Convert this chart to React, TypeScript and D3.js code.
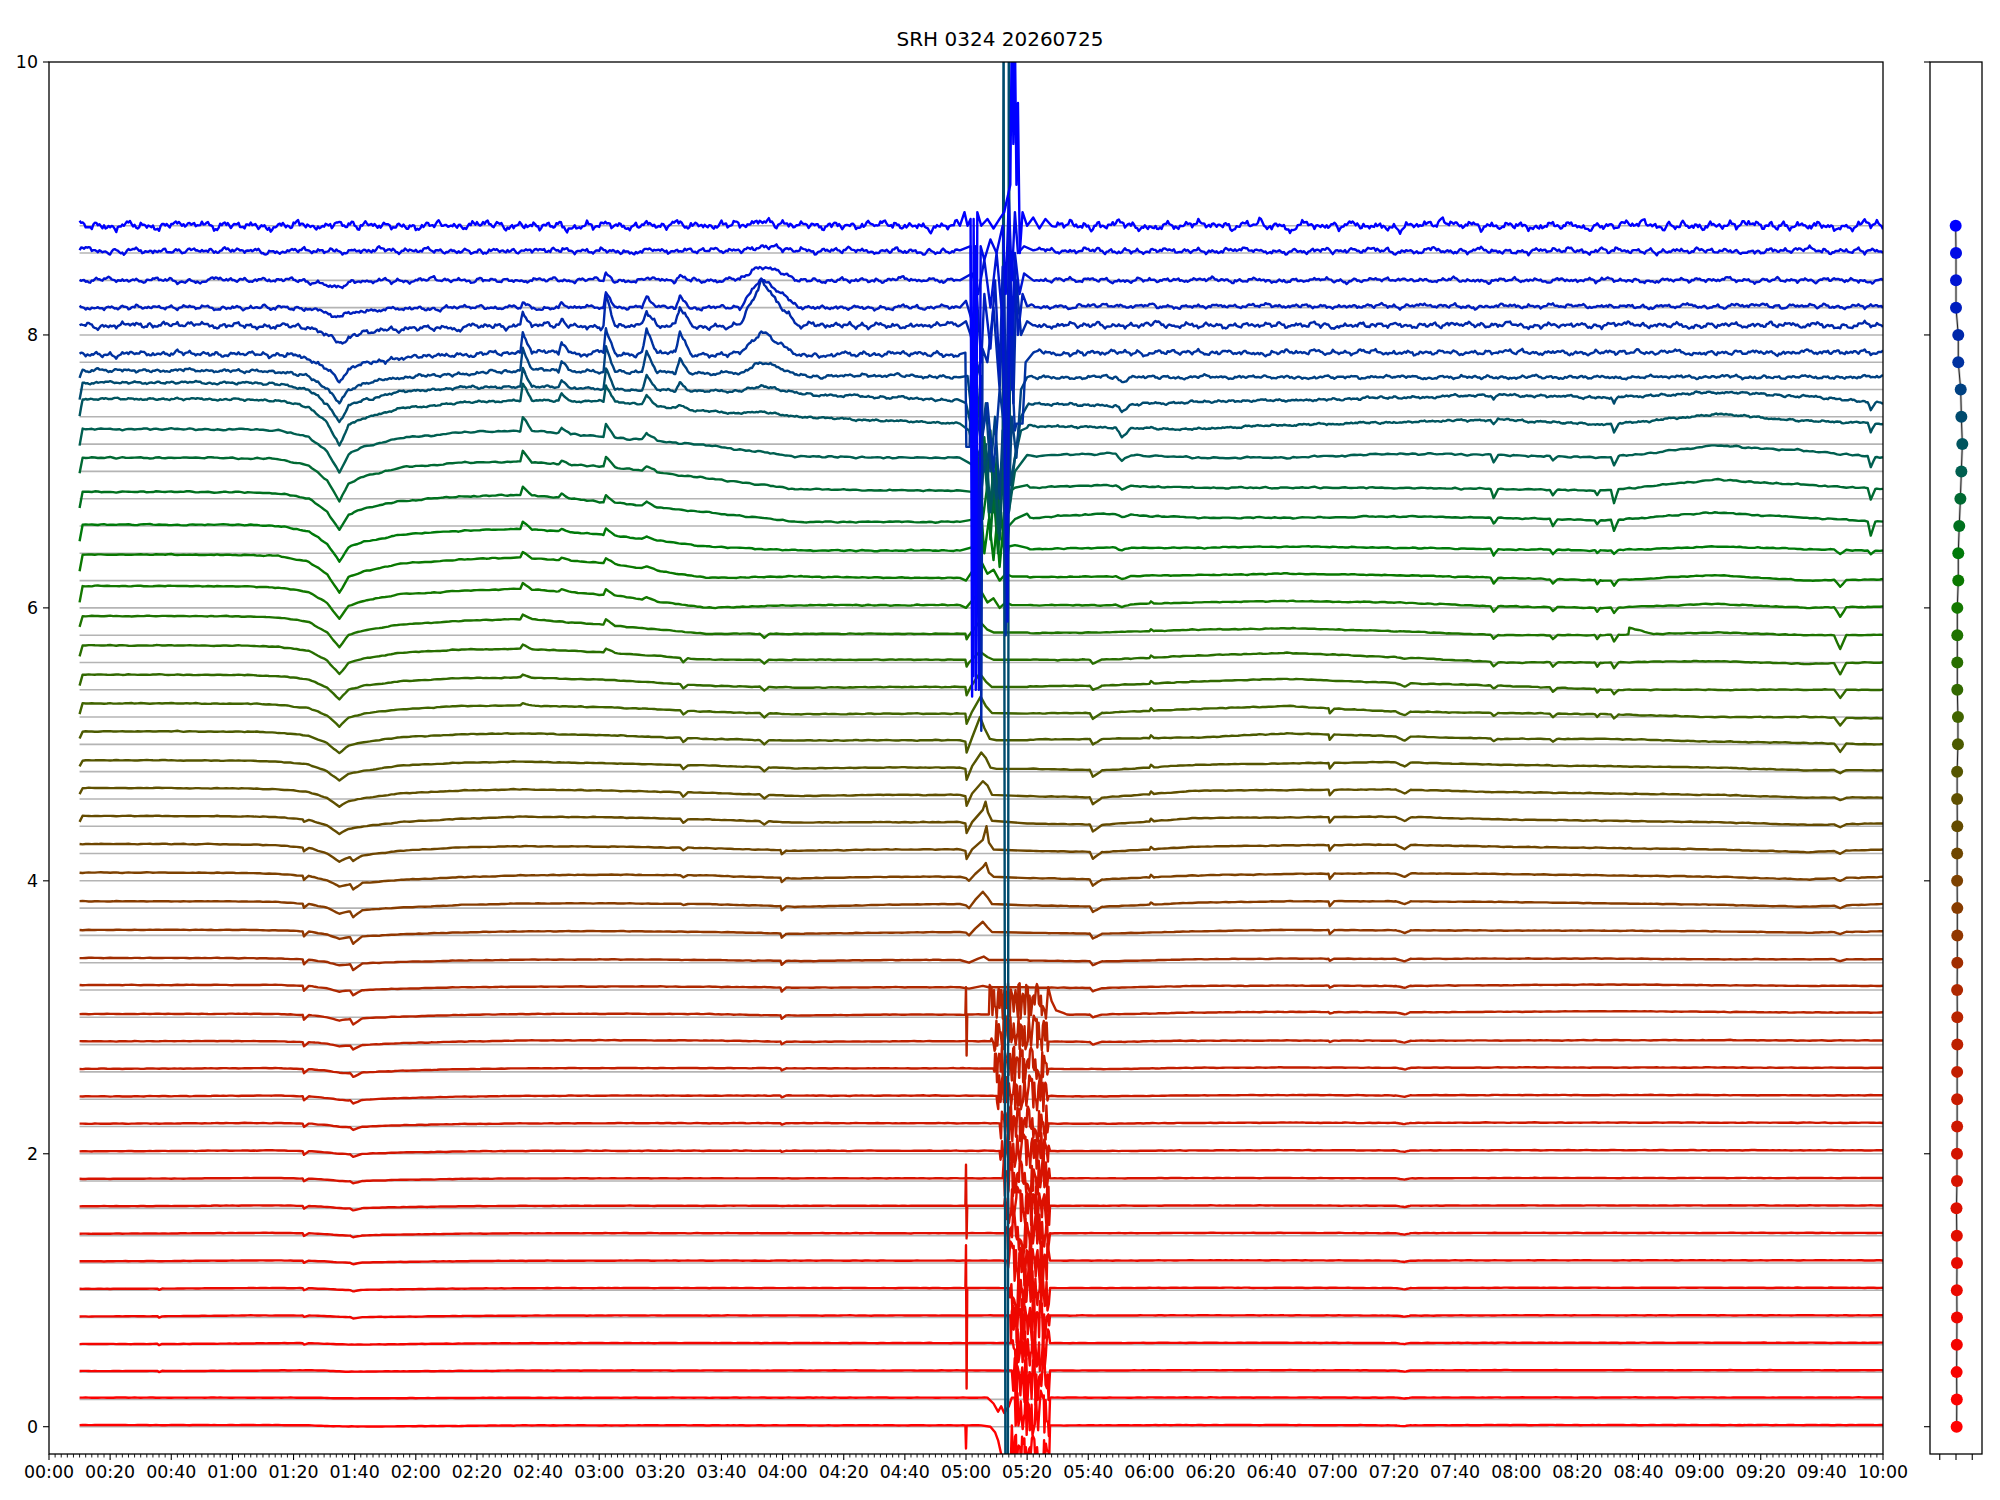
import React, { useMemo } from 'react';
import * as d3 from 'd3';

const TITLE = 'SRH 0324 20260725';
const N = 45;
const TRACE_LEVELS = [0, 0.2, 0.4, 0.6, 0.8, 1.0, 1.2, 1.4, 1.6, 1.8, 2.0, 2.2, 2.4, 2.6, 2.8, 3.0, 3.2, 3.4, 3.6, 3.8, 4.0, 4.2, 4.4, 4.6, 4.8, 5.0, 5.2, 5.4, 5.6, 5.8, 6.0, 6.2, 6.4, 6.6, 6.8, 7.0, 7.2, 7.4, 7.6, 7.8, 8.0, 8.2, 8.4, 8.6, 8.8];
const TRACE_COLORS = [
  '#ff0000', '#fc0100', '#f80200', '#f40400', '#ef0600', '#eb0900', '#e60b00', '#e10e00', '#dc1000', '#d71300',
  '#d21500', '#cd1800', '#c81b00', '#c21e00', '#bd2100', '#b82400', '#ae2800', '#a02d00', '#913700', '#873c00',
  '#7d4100', '#6e4600', '#644b00', '#5f5000', '#555500', '#4b5a00', '#416400', '#326900', '#286e00', '#1e7300',
  '#147800', '#0a7800', '#007a0a', '#00701e', '#006932', '#005f50', '#00555f', '#004b6e', '#004182', '#0032a0',
  '#0028aa', '#001ebe', '#0014d2', '#000ae6', '#0000ff'];
const PANEL_X = [0.04, 0.05, 0.04, 0.05, 0.06, 0.05, 0.06, 0.05, 0.03, 0.06, 0.06, 0.07, 0.07, 0.07, 0.08, 0.08, 0.07, 0.08, 0.08, 0.08, 0.07, 0.07, 0.08, 0.07, 0.07, 0.12, 0.12, 0.08, 0.08, 0.08, 0.08, 0.14, 0.14, 0.2, 0.27, 0.33, 0.39, 0.33, 0.29, 0.14, 0.14, 0.0, 0.0, 0.0, -0.02];
const RIPPLE_AMP = [0.002, 0.002, 0.002, 0.002, 0.002, 0.002, 0.002, 0.002, 0.002, 0.002, 0.003, 0.003, 0.003, 0.003, 0.003, 0.003, 0.003, 0.003, 0.003, 0.003, 0.004, 0.004, 0.004, 0.004, 0.004, 0.005, 0.005, 0.005, 0.005, 0.005, 0.006, 0.006, 0.007, 0.008, 0.009, 0.011, 0.014, 0.018, 0.024, 0.034, 0.038, 0.03, 0.032, 0.038, 0.058];

const SLOW_T = [10, 11, 40, 65, 75, 85, 91, 95, 98, 103, 115, 135, 155, 185, 215, 245, 275, 298, 345, 375, 405, 440, 475, 510, 545, 575, 600];
const SLOW_DEV = [
  [0.012, 0.012, 0.012, 0.012, 0.012, 0.01, 0.005, 0.003, 0.002, 0.002, 0.003, 0.006, 0.01, 0.01, 0.01, 0.01, 0.01, 0.01, 0.01, 0.012, 0.012, 0.01, 0.012, 0.012, 0.012, 0.012, 0.012],
  [0.013, 0.013, 0.013, 0.013, 0.013, 0.012, 0.01, 0.008, 0.008, 0.008, 0.009, 0.011, 0.012, 0.012, 0.013, 0.013, 0.013, 0.013, 0.013, 0.014, 0.014, 0.013, 0.014, 0.014, 0.014, 0.014, 0.014],
  [0.008, 0.008, 0.008, 0.01, 0.012, 0.014, 0.01, 0.006, 0.004, 0.004, 0.006, 0.009, 0.011, 0.012, 0.012, 0.012, 0.012, 0.012, 0.012, 0.014, 0.014, 0.012, 0.014, 0.014, 0.014, 0.014, 0.014],
  [0.006, 0.006, 0.006, 0.01, 0.012, 0.012, 0.008, 0.004, 0.002, 0.002, 0.005, 0.009, 0.012, 0.013, 0.013, 0.013, 0.013, 0.013, 0.013, 0.015, 0.015, 0.013, 0.015, 0.015, 0.015, 0.015, 0.015],
  [0.008, 0.008, 0.01, 0.015, 0.015, 0.015, 0.01, 0.005, 0.003, 0.003, 0.006, 0.011, 0.014, 0.015, 0.015, 0.015, 0.015, 0.015, 0.015, 0.016, 0.016, 0.014, 0.016, 0.016, 0.016, 0.016, 0.016],
  [0.01, 0.01, 0.012, 0.016, 0.016, 0.015, 0.01, 0.004, 0.002, 0.003, 0.007, 0.012, 0.015, 0.016, 0.016, 0.016, 0.016, 0.016, 0.016, 0.018, 0.018, 0.016, 0.018, 0.018, 0.018, 0.018, 0.018],
  [0.012, 0.012, 0.014, 0.018, 0.018, 0.016, 0.01, 0.004, 0.002, 0.003, 0.008, 0.013, 0.016, 0.017, 0.017, 0.017, 0.017, 0.017, 0.017, 0.019, 0.019, 0.017, 0.019, 0.019, 0.019, 0.019, 0.019],
  [0.014, 0.014, 0.016, 0.02, 0.02, 0.017, 0.01, 0.003, 0.0, 0.002, 0.008, 0.014, 0.017, 0.018, 0.018, 0.018, 0.018, 0.018, 0.018, 0.02, 0.02, 0.018, 0.02, 0.02, 0.02, 0.02, 0.02],
  [0.015, 0.015, 0.017, 0.021, 0.021, 0.018, 0.01, 0.002, -0.001, 0.002, 0.009, 0.015, 0.018, 0.019, 0.019, 0.019, 0.019, 0.019, 0.019, 0.021, 0.021, 0.019, 0.021, 0.021, 0.021, 0.021, 0.021],
  [0.016, 0.016, 0.018, 0.022, 0.022, 0.018, 0.01, 0.001, -0.002, 0.001, 0.009, 0.016, 0.019, 0.02, 0.02, 0.02, 0.02, 0.02, 0.02, 0.022, 0.022, 0.02, 0.022, 0.022, 0.022, 0.022, 0.022],
  [0.018, 0.018, 0.02, 0.024, 0.024, 0.019, 0.01, 0.0, -0.004, 0.0, 0.009, 0.017, 0.021, 0.022, 0.022, 0.022, 0.022, 0.022, 0.02, 0.024, 0.026, 0.024, 0.026, 0.026, 0.026, 0.025, 0.025],
  [0.02, 0.02, 0.022, 0.025, 0.025, 0.02, 0.01, -0.002, -0.006, -0.002, 0.009, 0.018, 0.022, 0.024, 0.024, 0.024, 0.024, 0.024, 0.02, 0.026, 0.028, 0.026, 0.028, 0.028, 0.028, 0.027, 0.027],
  [0.02, 0.02, 0.022, 0.026, 0.026, 0.02, 0.008, -0.004, -0.008, -0.004, 0.008, 0.018, 0.024, 0.026, 0.026, 0.026, 0.026, 0.026, 0.02, 0.028, 0.03, 0.028, 0.03, 0.03, 0.03, 0.028, 0.028],
  [0.022, 0.022, 0.024, 0.027, 0.027, 0.02, 0.008, -0.006, -0.008, -0.004, 0.008, 0.02, 0.026, 0.028, 0.028, 0.026, 0.026, 0.026, 0.02, 0.03, 0.032, 0.03, 0.032, 0.032, 0.032, 0.03, 0.03],
  [0.024, 0.024, 0.025, 0.026, 0.024, 0.018, 0.006, -0.012, -0.008, -0.002, 0.01, 0.022, 0.03, 0.032, 0.03, 0.02, 0.024, 0.025, 0.02, 0.028, 0.03, 0.028, 0.03, 0.032, 0.032, 0.03, 0.03],
  [0.024, 0.024, 0.025, 0.025, 0.024, 0.017, 0.0, -0.024, -0.014, -0.007, 0.005, 0.017, 0.024, 0.026, 0.024, 0.012, 0.02, 0.02, 0.02, 0.035, 0.04, 0.036, 0.04, 0.045, 0.04, 0.035, 0.035],
  [0.036, 0.036, 0.037, 0.037, 0.037, 0.03, 0.012, -0.012, -0.005, 0.0, 0.01, 0.019, 0.024, 0.026, 0.024, 0.017, 0.02, 0.02, 0.015, 0.03, 0.032, 0.03, 0.035, 0.04, 0.035, 0.03, 0.03],
  [0.034, 0.034, 0.035, 0.034, 0.03, 0.022, 0.005, -0.02, -0.012, -0.005, 0.005, 0.016, 0.022, 0.024, 0.02, 0.012, 0.02, 0.02, 0.01, 0.025, 0.03, 0.028, 0.03, 0.03, 0.025, 0.025, 0.025],
  [0.04, 0.04, 0.041, 0.04, 0.037, 0.028, 0.006, -0.025, -0.014, -0.006, 0.008, 0.022, 0.03, 0.031, 0.026, 0.012, 0.02, 0.025, 0.012, 0.03, 0.04, 0.038, 0.035, 0.035, 0.03, 0.02, 0.03],
  [0.05, 0.05, 0.05, 0.049, 0.044, 0.031, 0.002, -0.04, -0.025, -0.014, 0.004, 0.023, 0.034, 0.035, 0.03, 0.01, 0.025, 0.03, 0.01, 0.04, 0.05, 0.05, 0.045, 0.035, 0.025, 0.01, 0.03],
  [0.06, 0.06, 0.06, 0.057, 0.05, 0.036, 0.003, -0.044, -0.027, -0.014, 0.006, 0.027, 0.04, 0.045, 0.04, 0.017, 0.03, 0.03, 0.01, 0.04, 0.05, 0.055, 0.05, 0.04, 0.03, 0.01, 0.03],
  [0.07, 0.07, 0.07, 0.066, 0.06, 0.042, 0.0, -0.06, -0.03, -0.012, 0.02, 0.045, 0.054, 0.05, 0.04, 0.02, 0.03, 0.03, 0.01, 0.05, 0.06, 0.065, 0.05, 0.04, 0.03, 0.01, 0.03],
  [0.03, 0.075, 0.075, 0.072, 0.066, 0.047, 0.005, -0.056, -0.02, 0.0, 0.03, 0.055, 0.07, 0.065, 0.05, 0.027, 0.03, 0.03, 0.01, 0.06, 0.065, 0.07, 0.05, 0.04, 0.03, 0.01, 0.02],
  [0.035, 0.08, 0.08, 0.076, 0.07, 0.051, 0.007, -0.056, -0.015, 0.005, 0.04, 0.062, 0.07, 0.06, 0.045, 0.022, 0.03, 0.03, 0.01, 0.06, 0.065, 0.07, 0.05, 0.04, 0.03, 0.01, 0.01],
  [0.04, 0.083, 0.083, 0.08, 0.073, 0.052, 0.004, -0.066, -0.016, 0.006, 0.044, 0.066, 0.073, 0.06, 0.045, 0.024, 0.03, 0.03, 0.01, 0.05, 0.06, 0.07, 0.05, 0.04, 0.03, 0.01, 0.01],
  [0.045, 0.095, 0.095, 0.093, 0.085, 0.063, 0.01, -0.065, -0.01, 0.016, 0.052, 0.074, 0.08, 0.065, 0.04, 0.027, 0.03, 0.03, 0.04, 0.05, 0.08, 0.06, 0.04, 0.04, 0.02, 0.01, 0.0],
  [0.02, 0.1, 0.1, 0.098, 0.09, 0.066, 0.01, -0.07, -0.003, 0.025, 0.058, 0.08, 0.085, 0.07, 0.04, 0.02, 0.025, 0.025, 0.03, 0.06, 0.08, 0.04, 0.03, 0.02, 0.0, 0.0, -0.01],
  [0.03, 0.11, 0.11, 0.108, 0.1, 0.075, 0.015, -0.07, 0.0, 0.03, 0.062, 0.085, 0.09, 0.07, 0.03, 0.015, 0.02, 0.02, 0.03, 0.06, 0.08, 0.05, 0.03, 0.0, 0.0, 0.0, 0.0],
  [0.045, 0.125, 0.125, 0.122, 0.115, 0.085, 0.015, -0.085, -0.005, 0.03, 0.07, 0.095, 0.1, 0.07, 0.02, 0.02, 0.02, 0.02, 0.02, 0.05, 0.07, 0.04, 0.0, 0.0, 0.01, -0.01, 0.0],
  [0.06, 0.14, 0.14, 0.137, 0.13, 0.097, 0.02, -0.09, 0.0, 0.035, 0.078, 0.105, 0.12, 0.07, 0.01, 0.01, 0.01, 0.01, 0.02, 0.04, 0.05, 0.03, 0.0, 0.0, 0.02, 0.0, 0.0],
  [0.04, 0.16, 0.16, 0.157, 0.15, 0.115, 0.035, -0.08, 0.015, 0.052, 0.1, 0.125, 0.14, 0.09, 0.0, 0.02, 0.02, 0.02, 0.02, 0.04, 0.05, 0.04, 0.01, 0.0, 0.03, 0.0, 0.01],
  [0.07, 0.19, 0.19, 0.187, 0.18, 0.14, 0.045, -0.09, 0.023, 0.068, 0.123, 0.155, 0.17, 0.12, 0.02, 0.03, 0.02, 0.02, 0.03, 0.04, 0.05, 0.04, 0.02, 0.0, 0.04, 0.0, 0.01],
  [0.09, 0.21, 0.21, 0.207, 0.2, 0.161, 0.07, -0.06, 0.044, 0.085, 0.136, 0.165, 0.18, 0.13, 0.05, 0.02, 0.02, 0.02, 0.04, 0.04, 0.05, 0.04, 0.03, 0.02, 0.05, 0.03, 0.02],
  [0.13, 0.25, 0.25, 0.247, 0.24, 0.2, 0.105, -0.03, 0.083, 0.128, 0.183, 0.215, 0.23, 0.17, 0.1, 0.03, 0.03, 0.03, 0.09, 0.06, 0.06, 0.07, 0.06, 0.04, 0.1, 0.06, 0.03],
  [0.18, 0.3, 0.3, 0.297, 0.29, 0.244, 0.135, -0.02, 0.11, 0.163, 0.227, 0.265, 0.27, 0.23, 0.15, 0.07, 0.06, 0.06, 0.1, 0.08, 0.08, 0.08, 0.07, 0.06, 0.14, 0.1, 0.07],
  [0.19, 0.31, 0.31, 0.307, 0.3, 0.254, 0.145, -0.01, 0.125, 0.179, 0.245, 0.285, 0.3, 0.25, 0.19, 0.11, 0.1, 0.1, 0.13, 0.1, 0.1, 0.13, 0.12, 0.1, 0.19, 0.15, 0.1],
  [0.21, 0.33, 0.33, 0.327, 0.32, 0.27, 0.155, -0.01, 0.134, 0.192, 0.262, 0.305, 0.32, 0.31, 0.24, 0.2, 0.17, 0.15, 0.12, 0.11, 0.14, 0.16, 0.18, 0.14, 0.22, 0.17, 0.15],
  [0.13, 0.25, 0.25, 0.247, 0.24, 0.198, 0.1, -0.04, 0.077, 0.124, 0.181, 0.215, 0.22, 0.2, 0.19, 0.17, 0.14, 0.12, 0.08, 0.11, 0.12, 0.14, 0.16, 0.14, 0.18, 0.15, 0.1],
  [0.1, 0.14, 0.14, 0.135, 0.13, 0.095, 0.015, -0.1, -0.001, 0.039, 0.087, 0.115, 0.14, 0.13, 0.12, 0.1, 0.1, 0.09, 0.09, 0.09, 0.09, 0.09, 0.09, 0.09, 0.09, 0.09, 0.09],
  [0.06, 0.06, 0.06, 0.06, 0.054, 0.025, -0.043, -0.14, -0.05, -0.014, 0.03, 0.058, 0.066, 0.065, 0.06, 0.05, 0.06, 0.06, 0.07, 0.07, 0.07, 0.07, 0.07, 0.07, 0.07, 0.07, 0.07],
  [0.07, 0.07, 0.07, 0.07, 0.066, 0.047, 0.003, -0.06, -0.006, 0.016, 0.042, 0.058, 0.065, 0.065, 0.065, 0.07, 0.07, 0.07, 0.07, 0.07, 0.07, 0.07, 0.07, 0.07, 0.07, 0.07, 0.07],
  [0, 0, 0, 0, 0, -0.01, -0.04, -0.08, -0.035, -0.02, -0.01, 0, 0, 0, 0, 0, 0, 0, 0.01, 0.01, 0.01, 0.01, 0.01, 0.01, 0.01, 0.01, 0.01],
  [0, 0, 0, 0, 0, -0.01, -0.03, -0.05, -0.02, -0.01, 0, 0, 0, 0, 0, 0, 0, 0, 0, 0, 0, 0, 0, 0, 0, 0, 0],
  [0.015, 0.015, 0.015, 0.015, 0.015, 0.015, 0.015, 0.015, 0.015, 0.015, 0.015, 0.015, 0.015, 0.015, 0.015, 0.015, 0.015, 0.015, 0.015, 0.015, 0.015, 0.015, 0.015, 0.015, 0.015, 0.015, 0.015],
  [0, 0, 0, 0, 0, 0, 0, 0, 0, 0, 0, 0, 0, 0, 0, 0, 0, 0, 0, 0, 0, 0, 0, 0, 0, 0, 0],
];

// Sharp events (notches, peaks, dips): time, rise, fall, and [trace, amplitude] pairs
const EVENT_TIMES = [36, 83.4, 99.5, 155, 167.7, 182.2, 195.5, 206.4, 207.5, 233, 234, 239.7, 341.5, 351, 360.5, 419, 443.5, 472.6, 492, 506.5, 512, 517, 586, 596];
const EVENT_RISE = [0.5, 0.4, 1, 0.8, 1, 0.8, 1.5, 1.5, 1, 7, 1.5, 0.4, 1, 2, 0.5, 0.4, 3, 1, 1, 0.8, 1, 0.3, 2, 1];
const EVENT_FALL = [1, 1.6, 3, 3, 3, 3, 3.5, 3.5, 1.5, 12, 1.5, 1.5, 3, 3, 1, 1.5, 2, 1.5, 1.5, 1, 1.5, 8, 2, 1.5];
const EVENT_AMPS = [
  [[2, -0.008], [3, -0.01], [4, -0.01], [5, -0.008]],
  [[3, -0.01], [4, -0.01], [5, -0.015], [6, -0.015], [7, -0.02], [8, -0.02], [9, -0.02], [10, -0.025], [11, -0.025], [12, -0.03], [13, -0.03], [14, -0.03], [15, -0.035], [16, -0.035], [17, -0.035], [18, -0.035], [19, -0.03], [20, -0.03], [21, -0.025], [22, -0.015]],
  [[4, -0.01], [5, -0.01], [6, -0.012], [7, -0.012], [8, -0.015], [9, -0.015], [10, -0.02], [11, -0.02], [12, -0.025], [13, -0.03], [14, -0.03], [15, -0.04], [16, -0.035], [17, -0.045], [18, -0.05], [19, -0.045], [20, -0.04], [21, -0.03]],
  [[26, 0.015], [27, 0.02], [28, 0.03], [29, 0.03], [30, 0.04], [31, 0.04], [32, 0.05], [33, 0.06], [34, 0.08], [35, 0.1], [36, 0.12], [37, 0.14], [38, 0.16], [39, 0.16], [40, 0.1], [41, 0.04]],
  [[30, 0.02], [31, 0.02], [32, 0.02], [33, 0.03], [34, 0.03], [35, 0.04], [36, 0.05], [37, 0.06], [38, 0.08], [39, 0.09], [40, 0.05], [41, 0.03]],
  [[28, 0.03], [29, 0.04], [30, 0.04], [31, 0.04], [32, 0.05], [33, 0.05], [34, 0.07], [35, 0.09], [36, 0.12], [37, 0.15], [38, 0.18], [39, 0.18], [40, 0.21], [41, 0.1], [42, 0.05]],
  [[30, 0.02], [31, 0.02], [32, 0.02], [33, 0.03], [34, 0.04], [35, 0.05], [36, 0.07], [37, 0.1], [38, 0.14], [39, 0.16], [40, 0.12], [41, 0.07], [42, 0.02]],
  [[36, 0.03], [37, 0.06], [38, 0.1], [39, 0.16], [40, 0.13], [41, 0.08], [42, 0.03]],
  [[19, -0.01], [20, -0.015], [21, -0.02], [22, -0.03], [23, -0.03], [24, -0.03], [25, -0.03], [26, -0.03], [27, -0.03], [28, -0.03]],
  [[36, 0.02], [37, 0.05], [38, 0.1], [39, 0.17], [40, 0.32], [41, 0.22], [42, 0.11], [43, 0.04], [44, 0.04]],
  [[22, -0.025], [23, -0.03], [24, -0.03], [25, -0.03], [26, -0.03], [27, -0.03], [28, -0.03], [29, -0.03]],
  [[10, -0.01], [11, -0.01], [12, -0.012], [13, -0.015], [14, -0.02], [15, -0.025], [16, -0.03], [17, -0.03], [18, -0.03], [19, -0.03], [20, -0.03], [21, -0.03]],
  [[14, -0.02], [15, -0.02], [16, -0.025], [17, -0.03], [18, -0.035], [19, -0.04], [20, -0.045], [21, -0.05], [22, -0.05], [23, -0.05], [24, -0.05], [25, -0.04], [26, -0.04], [27, -0.03], [28, -0.03]],
  [[30, -0.02], [31, -0.02], [32, -0.02], [33, -0.02], [34, -0.03], [35, -0.05], [36, -0.07], [37, -0.05], [38, -0.03]],
  [[19, 0.015], [20, 0.02], [21, 0.02], [22, 0.02], [23, 0.02], [24, 0.02], [25, 0.02], [26, 0.02], [27, 0.02], [28, 0.015], [29, 0.015], [30, 0.015]],
  [[14, -0.01], [15, -0.01], [16, -0.015], [17, -0.015], [18, -0.03], [19, -0.035], [20, -0.04], [21, -0.04], [22, -0.04], [23, -0.04], [24, -0.04], [25, -0.04], [26, -0.035]],
  [[0, -0.006], [1, -0.006], [2, -0.008], [3, -0.008], [4, -0.008], [5, -0.01], [6, -0.01], [7, -0.01], [8, -0.01], [9, -0.01], [10, -0.01], [11, -0.01], [12, -0.012], [13, -0.012], [14, -0.015], [15, -0.015], [16, -0.015], [17, -0.02], [18, -0.02], [19, -0.02], [20, -0.025], [21, -0.03], [22, -0.03], [23, -0.03], [24, -0.03], [25, -0.03], [26, -0.025], [27, -0.025], [28, -0.01]],
  [[25, -0.02], [26, -0.02], [27, -0.02], [28, -0.03], [29, -0.03], [30, -0.04], [31, -0.04], [32, -0.05], [33, -0.04], [34, -0.06], [35, -0.05], [36, -0.04], [37, -0.03]],
  [[25, -0.02], [26, -0.025], [27, -0.03], [28, -0.03], [29, -0.03], [30, -0.03], [31, -0.03], [32, -0.03], [33, -0.05], [34, -0.04], [35, -0.03]],
  [[26, -0.02], [27, -0.025], [28, -0.03], [29, -0.03], [30, -0.03], [31, -0.03], [32, -0.02], [33, -0.03], [34, -0.03]],
  [[26, -0.03], [27, -0.03], [28, -0.04], [29, -0.05], [30, -0.04], [31, -0.04], [32, -0.03], [33, -0.08], [34, -0.1], [35, -0.06], [36, -0.06], [37, -0.05]],
  [[29, 0.05]],
  [[17, -0.015], [18, -0.015], [19, -0.02], [20, -0.02], [21, -0.02], [22, -0.02], [23, -0.02], [24, -0.02], [25, -0.06], [26, -0.06], [27, -0.06], [28, -0.08], [29, -0.1], [30, -0.07], [31, -0.05], [32, -0.03]],
  [[32, -0.03], [33, -0.1], [34, -0.08], [35, -0.08], [36, -0.07], [37, -0.05]],
];

// Fine texture (scaled per trace by RIPPLE_AMP)
const RIPPLE = [
  0.2, -0.5, 0.7, 0.1, -0.8, 0.4, -0.2, 0.9, -0.6, 0.3, -0.1, 0.6, -0.9, 0.2, 0.5, -0.4, 0.8, -0.7, 0.0, 0.4,
  -0.3, -0.8, 0.6, 0.9, -0.2, 0.1, -0.6, 0.5, -1.0, 0.3, 0.7, -0.4, 0.2, -0.1, 0.8, -0.5, 0.4, -0.9, 0.6, 0.0,
  -0.3, 0.5, -0.7, 1.0, -0.2, 0.3, -0.6, 0.1, 0.7, -0.8, 0.4, -0.1, -0.5, 0.6, -0.3, 0.9, -0.7, 0.2, -0.4, 0.5,
  0.1, -0.9, 0.8, -0.2, 0.3, -0.6, 0.7, -0.1, 0.4, -0.8, 0.6, 0.2, -0.5, 0.9, -0.4, 0.0, -0.7, 0.5, -0.2, 0.8,
  -0.6, 0.3, -1.0, 0.4, 0.1, -0.3, 0.7, -0.5, 0.6, -0.1, 0.2, -0.8, 0.5, -0.4, 0.9, -0.6, 0.3, 0.0, -0.7, 0.8,
  -0.2, 0.4, -0.5, 0.6, -0.9, 0.1, 0.7, -0.3, 0.5, -0.8, 0.3, -0.1, 0.9, -0.6, 0.2, -0.4, 0.8, -0.7, 0.0, 0.5,
  -0.3, 0.6, -0.8, 0.4, -0.2, 1.0, -0.5, 0.1, -0.6, 0.7, 0.2, -0.9, 0.5, -0.1, 0.3, -0.7, 0.8, -0.4, 0.6, -0.2,
  -0.5, 0.4, -0.3, 0.9, -0.8, 0.2, 0.1, -0.6, 0.7, -0.4, 0.5, -1.0, 0.3, 0.6, -0.2, 0.8, -0.5, 0.0, 0.4, -0.7,
  0.9, -0.3, 0.2, -0.6, 0.5, -0.1, 0.7, -0.9, 0.3, 0.1, -0.4, 0.8, -0.2, 0.6, -0.7, 0.4, -0.5, 0.9, -0.1, 0.2,
  -0.8, 0.5, -0.3, 0.7, 0.0, -0.6, 0.4, -0.2, 0.8, -0.5, 0.3, -0.9, 0.6, -0.4, 0.1, 0.7, -0.3, 0.5, -0.7, 0.2,
];

// Burst around 05:00-05:30: explicit [minute, deviation] vertices per trace
const BURST_SEGMENTS: [number, number[][]][] = [
  [44, [[298, 0], [299.5, 0.1], [300.5, 0.0], [301.5, 0.05], [302.0, -3.45], [302.5, 0.05], [303.2, -3.4], [303.7, 0.1], [305, 0.0], [307, 0.05], [309, -0.02], [311, 0.05], [312.5, 0.1], [314.5, 0.3], [315.0, 1.5], [315.5, 0.6], [316.0, 1.4], [316.5, 0.3], [317.0, 0.9], [317.6, -0.2], [318.5, 0.1], [320, 0.0], [322, 0.06], [324, -0.02], [326, 0.05], [328, 0.0]]],
  [43, [[298, 0.02], [301.5, 0.05], [302.4, -3.1], [303.0, 0.05], [304.2, -3.2], [304.8, 0.05], [306, -0.05], [308, 0.1], [310, 0.0], [312, 0.2], [313, -0.3], [314, 0.4], [315, -0.2], [316, 0.3], [317, 0.0], [319, 0.05], [322, 0.02]]],
  [42, [[298, 0], [302, 0.05], [304, -0.1], [306, 0.15], [308, -0.2], [310, 0.2], [312, -0.3], [313.6, -2.5], [314.2, 0.3], [315, -0.4], [316, 0.2], [317.5, -0.1], [319, 0.05], [322, 0]]],
  [41, [[298, 0], [300, 0.05], [302, -0.1], [303.5, 0.1], [305, -0.4], [306, 0.1], [308, -0.3], [309.5, 0.2], [311, -0.5], [312, 0.3], [313, -1.0], [314, 0.4], [315, -0.6], [316, 0.3], [317, -0.2], [318.5, 0.1], [320, 0.01]]],
  [40, [[298, 0.07], [300, 0.1], [301.5, 0.0], [304.6, -0.3], [305.0, -2.9], [305.4, -0.1], [307, -0.2], [309, 0.2], [311, -0.4], [312.5, 0.4], [313.5, -1.5], [314.5, 0.5], [315.5, -0.5], [316.5, 0.4], [318, 0.0], [320, 0.1], [322, 0.07]]],
  [39, [[298, 0.06], [299.8, 0.07], [300.1, -0.62], [301.2, -0.62], [301.6, -0.1], [303, -0.3], [305, -0.6], [307, -0.3], [309, -0.8], [311, -0.2], [312.6, -0.5], [313.0, -2.0], [313.5, -0.3], [314.5, 0.2], [316, -0.5], [316.5, -0.45], [318.5, -0.45], [319.5, 0.0], [322, 0.07]]],
  [38, [[298, 0.09], [300.5, 0.1], [302, -0.2], [303.5, 0.05], [305, -0.4], [306.5, -0.1], [308, -0.6], [309.5, -0.2], [311, -0.8], [312, -0.3], [313.5, -1.1], [315, -0.2], [316.5, -0.5], [318, 0.0], [320, 0.09]]],
  [37, [[298, 0.12], [300, 0.1], [303, -0.2], [306, -0.4], [308, -0.2], [310, -0.6], [312.0, -0.3], [312.3, 3.0], [312.9, -8.0], [313.7, -8.0], [314.0, 3.0], [314.4, -0.5], [316, -0.3], [318, 0.0], [320, 0.08]]],
  [36, [[298, 0.15], [301, 0.1], [303, -0.1], [305, -0.35], [306.5, 0.0], [308, -0.5], [309.5, -0.2], [311, -0.7], [312.5, 0.0], [314, -0.5], [316, -0.1], [318, 0.1], [320, 0.12]]],
  [35, [[298, 0.1], [302, 0.05], [304, -0.2], [306, 0.1], [307.5, -0.3], [309, 0.0], [310.5, -0.45], [312, 0.05], [314, -0.3], [316, 0.0], [320, 0.12]]],
  [34, [[298, 0.06], [302, 0.05], [304, 0.3], [305, 0.0], [306, 0.45], [307, 0.1], [308, 0.5], [309, -0.1], [310, 0.3], [311, -0.2], [312, 0.2], [313, -0.1], [314, 0.05], [316, 0.08], [320, 0.1]]],
  [33, [[298, 0.03], [303, 0.05], [304.5, 0.35], [305.5, 0.05], [307, 0.3], [308, -0.1], [309, 0.25], [310.5, -0.2], [311.5, 0.1], [313, -0.3], [314, 0.0], [316, 0.05], [320, 0.09]]],
  [32, [[298, 0.02], [303, 0.05], [305, 0.3], [306, 0.0], [307.5, 0.25], [309, -0.05], [310, 0.2], [311, -0.1], [312, 0.15], [313, -0.1], [314, 0.05], [316, 0.06], [320, 0.04]]],
  [31, [[298, 0.02], [300, 0.0], [303, 0.1], [305, 0.14], [307, 0.05], [309, 0.08], [311, 0.0], [313, 0.05], [315, 0.03], [320, 0.03]]],
  [30, [[298, 0.02], [300, 0.0], [303, 0.08], [305, 0.12], [307, 0.04], [309, 0.07], [311, 0.0], [313, 0.04], [315, 0.02], [320, 0.02]]],
  [29, [[298, 0.01], [299.8, 0.01], [300.2, -0.03], [301, 0.0], [304.5, 0.1], [307, 0.04], [309, 0.02], [312, 0.02], [320, 0.02]]],
  [28, [[298, 0.02], [299.8, 0.02], [300.2, -0.03], [301, 0.0], [304.5, 0.08], [307, 0.04], [309, 0.02], [320, 0.02]]],
  [27, [[298, 0.02], [299.8, 0.02], [300.2, -0.04], [301.5, 0.02], [304.5, 0.12], [306.5, 0.06], [308.5, 0.02], [320, 0.02]]],
  [26, [[298, 0.025], [299.8, 0.025], [300.2, -0.05], [302, 0.04], [304.8, 0.15], [306.5, 0.08], [308.5, 0.03], [320, 0.025]]],
  [25, [[298, 0.03], [299.8, 0.02], [300.2, -0.06], [302, 0.05], [304.6, 0.2], [306, 0.12], [307.8, 0.04], [310, 0.03], [320, 0.03]]],
  [24, [[298, 0.03], [299.8, 0.02], [300.2, -0.06], [302, 0.04], [305, 0.14], [306.5, 0.1], [308, 0.03], [310, 0.02], [320, 0.02]]],
  [23, [[298, 0.03], [299.8, 0.02], [300.2, -0.05], [302, 0.04], [305.5, 0.13], [307, 0.1], [308.5, 0.03], [320, 0.02]]],
  [22, [[298, 0.03], [299.8, 0.02], [300.2, -0.05], [302, 0.03], [305.5, 0.12], [306.4, 0.18], [307.2, 0.1], [308.5, 0.04], [320, 0.02]]],
  [21, [[298, 0.03], [299.8, 0.02], [300.2, -0.04], [302, 0.03], [305.5, 0.1], [306.7, 0.2], [307.5, 0.08], [309, 0.03], [320, 0.02]]],
  [20, [[298, 0.03], [300, 0.02], [301, 0.0], [303, 0.05], [305.5, 0.1], [306.5, 0.13], [307.5, 0.06], [309, 0.03], [320, 0.02]]],
  [19, [[298, 0.03], [300, 0.02], [301, 0.0], [303, 0.06], [305.5, 0.12], [307, 0.08], [308.5, 0.03], [320, 0.02]]],
  [18, [[298, 0.025], [300, 0.02], [301, 0.0], [303, 0.05], [305.5, 0.1], [307, 0.06], [308.5, 0.025], [320, 0.02]]],
  [17, [[298, 0.02], [301, 0.0], [304, 0.03], [305.8, 0.045], [307.5, 0.02], [320, 0.02]]],
  [16, [[298, 0.02], [301, 0.01], [305.5, 0.03], [307.5, 0.02], [320, 0.02]]],
  [15, [[299.8, 0.02], [300.0, 0.22], [300.2, -0.28], [300.4, 0.02]]],
  [8, [[299.8, 0.02], [300.0, 0.32], [300.2, -0.22], [300.4, 0.02]]],
  [5, [[299.8, 0.017], [300.0, 0.33], [300.2, -0.72], [300.4, 0.017]]],
  [0, [[299.8, 0.01], [300.0, -0.16], [300.2, 0.01]]],
  [0, [[305, 0.01], [308, 0.0], [309.5, -0.04], [310.5, -0.1], [311.5, -0.2], [312.5, -0.4], [314.5, -0.4]]],
  [1, [[307, 0.013], [309, -0.03], [310.5, -0.09], [311.5, -0.05], [312.5, -0.1], [314, -0.05]]],
];
// Dense oscillation of the red traces: trace, start, end, amplitude, bias
const RED_OSC = [
  [15, 307.5, 326.5, 0.13, 0.1], [14, 308, 327, 0.13, 0.06], [13, 309, 327, 0.13, 0.03], [12, 310, 327, 0.13, 0.02],
  [11, 311, 327, 0.13, 0.0], [10, 311, 327.5, 0.13, 0.0], [9, 312, 327.5, 0.13, 0.0], [8, 312.5, 327.5, 0.14, 0.0],
  [7, 313, 327.5, 0.15, 0.0], [6, 313.5, 327.5, 0.16, -0.02], [5, 314, 327.5, 0.16, -0.02], [4, 314.5, 327.5, 0.16, -0.04],
  [3, 315, 327.5, 0.16, -0.06], [2, 315, 327.5, 0.17, -0.08], [1, 316, 327.5, 0.17, -0.12], [0, 315, 327.5, 0.13, -0.2],
];
const BURST_OSC = [
  0.6, -0.9, 0.3, 1.0, -0.4, -1.0, 0.8, -0.2, 0.5, -0.8, 0.9, -0.6, 0.1, 1.0, -0.9, 0.4, -0.3, 0.7, -1.0, 0.6,
  -0.5, 0.9, -0.7, 0.2, 0.8, -0.9, 0.5, -0.1, 1.0, -0.6, 0.3, -0.8, 0.7, -0.4, 0.9, -1.0, 0.4, -0.2, 0.6, -0.7,
  1.0, -0.5, 0.2, -0.9, 0.8, -0.3, 0.5, -0.8, -0.1, 0.4, -0.6, 0.95, -0.35, 0.15, -0.85, 0.55, 0.25, -0.45, 0.75, -0.95,
  0.05, 0.65, -0.25, -0.75, 0.85, -0.15, 0.45, -0.55, 0.35, -0.65, 0.9, 0.1, -0.3, 0.7, -0.9, 0.2, -0.1, 0.5, -0.7, 0.3,
  -0.4, 1.0, -0.6, 0.0, 0.8, -0.2, -0.8, 0.6, -0.5, 0.3, 0.9, -1.0, 0.4, -0.3, 0.6, -0.1];
const BURST_STEP = [0.35, 0.25, 0.45, 0.3, 0.2, 0.4, 0.3, 0.5, 0.25, 0.35, 0.3, 0.45, 0.2, 0.3];
const K15_AFTER = [[326.5, 0.1], [326.9, 0.22], [328, 0.12], [329.5, 0.05], [332, 0.03]];

const X_MAJOR = d3.range(0, 601, 20);
const X_MINOR = d3.range(0, 601, 2).filter((m) => m % 20 !== 0);
const Y_TICKS = [0, 2, 4, 6, 8, 10];
const PANEL_TICKS = [-1, 0, 1];

const M = { left: 49, right: 1883, top: 62, bottom: 1454 };
const P = { left: 1930, right: 1982 };
const xScale = d3.scaleLinear().domain([0, 600]).range([M.left, M.right]);
const yScale = d3.scaleLinear().domain([-0.2, 10]).range([M.bottom, M.top]);
const pScale = d3.scaleLinear().domain([-1.6, 1.6]).range([P.left, P.right]);

function slowAt(k: number, t: number) {
  const row = SLOW_DEV[k];
  if (t <= SLOW_T[0]) return row[0];
  for (let i = 1; i < SLOW_T.length; i++) {
    if (t <= SLOW_T[i]) {
      const f = (t - SLOW_T[i - 1]) / (SLOW_T[i] - SLOW_T[i - 1]);
      return row[i - 1] + f * (row[i] - row[i - 1]);
    }
  }
  return row[row.length - 1];
}

function rippleVal(idx: number) {
  const L = RIPPLE.length;
  const i0 = Math.floor(idx);
  const fr = idx - i0;
  const a = RIPPLE[((i0 % L) + L) % L];
  const b = RIPPLE[(((i0 + 1) % L) + L) % L];
  return a + fr * (b - a);
}

function rippleAt(k: number, t: number) {
  const amp = RIPPLE_AMP[k];
  return amp * (0.4 * rippleVal(t * 1.5 + k * 37) + 0.6 * rippleVal(t / 2.2 + k * 19) + 0.35 * rippleVal(t / 9 + k * 13));
}

function eventAt(k: number, t: number) {
  let s = 0;
  EVENT_TIMES.forEach((te, e) => {
    const pair = EVENT_AMPS[e].find((p) => p[0] === k);
    if (!pair) return;
    const r = EVENT_RISE[e], f = EVENT_FALL[e];
    if (t >= te - r && t <= te) s += pair[1] * (t - (te - r)) / r;
    else if (t > te && t <= te + f) s += pair[1] * (1 - (t - te) / f);
  });
  return s;
}

function buildTrace(k: number): [number, number][] {
  const level = TRACE_LEVELS[k];
  const step = k >= 36 ? 0.5 : 1;
  const ts = new Set<number>(d3.range(10, 600.001, step));
  EVENT_TIMES.forEach((te, e) => {
    if (EVENT_AMPS[e].some((p) => p[0] === k)) {
      ts.add(+(te - EVENT_RISE[e]).toFixed(3));
      ts.add(te);
      ts.add(+(te + EVENT_FALL[e]).toFixed(3));
    }
  });
  let pts: [number, number][] = Array.from(ts)
    .filter((t) => t >= 10 && t <= 600)
    .sort((a, b) => a - b)
    .map((t) => [t, level + slowAt(k, t) + eventAt(k, t) + rippleAt(k, t)]);

  const overrides: [number, number][][] = [];
  BURST_SEGMENTS.forEach(([kk, seg]) => {
    if (kk === k) overrides.push(seg.map((p) => [p[0], level + p[1]] as [number, number]));
  });
  RED_OSC.forEach(([kk, t0, t1, amp, bias]) => {
    if (kk !== k) return;
    const seg: [number, number][] = [[t0, level + slowAt(k, t0)]];
    let j = 1;
    let t = t0 + BURST_STEP[k % BURST_STEP.length];
    while (t < t1 - 0.2) {
      const v = BURST_OSC[(j * 7 + k * 13) % BURST_OSC.length];
      seg.push([t, level + slowAt(k, t) + bias + amp * v]);
      t += BURST_STEP[(j + k * 3) % BURST_STEP.length];
      j++;
    }
    seg.push([t1, level + slowAt(k, t1)]);
    overrides.push(seg);
  });
  if (k === 15) overrides.push(K15_AFTER.map((p) => [p[0], level + p[1]] as [number, number]));

  overrides.forEach((seg) => {
    const a = seg[0][0], b = seg[seg.length - 1][0];
    pts = pts.filter((p) => p[0] < a || p[0] > b).concat(seg);
    pts.sort((p, q) => p[0] - q[0]);
  });
  return pts;
}

const fmtTime = (m: number) => `${String(Math.floor(m / 60)).padStart(2, '0')}:${String(m % 60).padStart(2, '0')}`;

export default function App() {
  const traces = useMemo(() => d3.range(N).map((k) => buildTrace(k)), []);
  const line = d3.line<[number, number]>().x((d) => xScale(d[0])).y((d) => yScale(d[1]));
  const panelLine = d3.line<number>().x((k) => pScale(PANEL_X[k])).y((k) => yScale(TRACE_LEVELS[k]));
  const font = 'DejaVu Sans, Liberation Sans, sans-serif';

  return (
    <svg width={2000} height={1500} style={{ position: 'absolute', left: 0, top: 0, background: '#ffffff' }} fontFamily={font}>
      <rect x={0} y={0} width={2000} height={1500} fill="#ffffff" />
      <defs>
        <clipPath id="mainClip">
          <rect x={M.left} y={M.top} width={M.right - M.left} height={M.bottom - M.top} />
        </clipPath>
      </defs>
      <text x={1000} y={46} textAnchor="middle" fontSize={20} fill="#000">{TITLE}</text>

      <g clipPath="url(#mainClip)">
        {TRACE_LEVELS.map((lv, k) => (
          <line key={'g' + k} x1={xScale(10)} x2={xScale(600)} y1={yScale(lv)} y2={yScale(lv)} stroke="#b4b4b4" strokeWidth={1.6} />
        ))}
        {traces.map((pts, k) => (
          <path key={'t' + k} d={line(pts) || ''} fill="none" stroke={TRACE_COLORS[k]} strokeWidth={2.4} strokeLinejoin="round" />
        ))}
      </g>
      <rect x={M.left} y={M.top} width={M.right - M.left} height={M.bottom - M.top} fill="none" stroke="#000" strokeWidth={1.3} />

      {Y_TICKS.map((v) => (
        <g key={'y' + v}>
          <line x1={M.left - 6} x2={M.left} y1={yScale(v)} y2={yScale(v)} stroke="#000" strokeWidth={1.1} />
          <text x={38} y={yScale(v)} dy="0.35em" textAnchor="end" fontSize={17.4} fill="#000">{v}</text>
        </g>
      ))}
      {X_MINOR.map((m) => (
        <line key={'xm' + m} x1={xScale(m)} x2={xScale(m)} y1={M.bottom} y2={M.bottom + 3.5} stroke="#000" strokeWidth={0.9} />
      ))}
      {X_MAJOR.map((m) => (
        <g key={'xM' + m}>
          <line x1={xScale(m)} x2={xScale(m)} y1={M.bottom} y2={M.bottom + 6} stroke="#000" strokeWidth={1.1} />
          <text x={xScale(m)} y={1478} textAnchor="middle" fontSize={17.4} fill="#000">{fmtTime(m)}</text>
        </g>
      ))}

      <rect x={P.left} y={M.top} width={P.right - P.left} height={M.bottom - M.top} fill="#ffffff" stroke="#000" strokeWidth={1.3} />
      {Y_TICKS.map((v) => (
        <line key={'py' + v} x1={P.left - 6} x2={P.left} y1={yScale(v)} y2={yScale(v)} stroke="#000" strokeWidth={1.1} />
      ))}
      {PANEL_TICKS.map((v) => (
        <line key={'px' + v} x1={pScale(v)} x2={pScale(v)} y1={M.bottom} y2={M.bottom + 6} stroke="#000" strokeWidth={1.1} />
      ))}
      <path d={panelLine(d3.range(N)) || ''} fill="none" stroke="#999" strokeWidth={2.6} opacity={0.55} />
      <path d={panelLine(d3.range(N)) || ''} fill="none" stroke="#222" strokeWidth={1} />
      {TRACE_LEVELS.map((lv, k) => (
        <circle key={'d' + k} cx={pScale(PANEL_X[k])} cy={yScale(lv)} r={6} fill={TRACE_COLORS[k]} />
      ))}
    </svg>
  );
}
